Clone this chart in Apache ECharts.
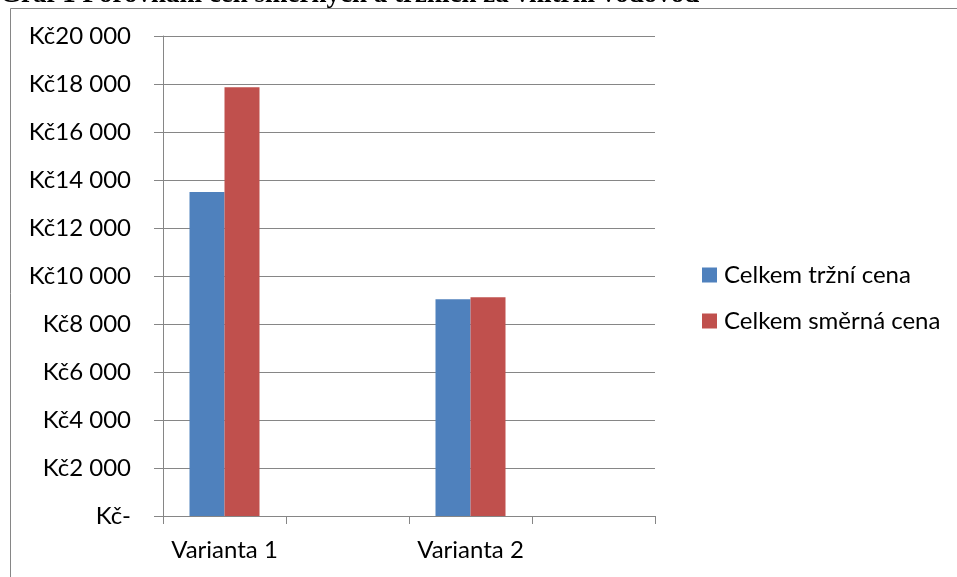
<!DOCTYPE html>
<html>
<head>
<meta charset="utf-8">
<script src="https://cdn.jsdelivr.net/npm/echarts@6/dist/echarts.min.js"></script>
<style>
  html, body { margin: 0; padding: 0; background: #ffffff; }
  #chart { width: 957px; height: 577px; }
</style>
</head>
<body>
<div id="chart"></div>
<script>
// Kategorie na ose X (prázdné sloty jsou součástí osy)
const categories = ['Varianta 1', '', 'Varianta 2', ''];
// Celkem tržní cena (Kč)
const trzniCena = [13500, null, 9030, null];
// Celkem směrná cena (Kč)
const smernaCena = [17860, null, 9110, null];
// Popisky osy Y
const yTickValues = [0, 2000, 4000, 6000, 8000, 10000, 12000, 14000, 16000, 18000, 20000];
const yTickLabels = ['Kč-', 'Kč2 000', 'Kč4 000', 'Kč6 000', 'Kč8 000', 'Kč10 000',
                     'Kč12 000', 'Kč14 000', 'Kč16 000', 'Kč18 000', 'Kč20 000'];
const seriesNames = ['Celkem tržní cena', 'Celkem směrná cena'];
const titleText = 'Graf 1 Porovnání cen směrných a tržních za vnitřní vodovod';

const FONT = 'Lato, "Open Sans", sans-serif';
const GRAY = '#868686';

const chart = echarts.init(document.getElementById('chart'), null, { renderer: 'canvas' });

chart.setOption({
  animation: false,
  backgroundColor: '#ffffff',
  graphic: [
    {
      type: 'rect',
      shape: { x: 10.5, y: 8.5, width: 1000, height: 700 },
      style: { fill: 'none', stroke: GRAY, lineWidth: 1 },
      silent: true
    },
    {
      type: 'text',
      left: 0,
      top: -18,
      style: {
        text: titleText,
        font: 'bold 27px "Liberation Serif", "DejaVu Serif", serif',
        fill: '#000000'
      },
      silent: true
    }
  ],
  grid: { left: 163, right: 302, top: 36, bottom: 61, containLabel: false },
  legend: {
    orient: 'vertical',
    left: 697,
    top: 258,
    itemWidth: 15,
    itemHeight: 15,
    itemGap: 22,
    icon: 'rect',
    textStyle: { fontFamily: FONT, fontSize: 24, color: '#000000', padding: [0, 0, 0, 2] },
    data: seriesNames
  },
  xAxis: {
    type: 'category',
    data: categories,
    boundaryGap: true,
    axisLine: { lineStyle: { color: GRAY, width: 1 } },
    axisTick: { show: true, length: 8, lineStyle: { color: GRAY, width: 1 } },
    axisLabel: { fontFamily: FONT, fontSize: 24, color: '#000000', margin: 22, interval: 0 }
  },
  yAxis: {
    type: 'value',
    min: 0,
    max: 20000,
    interval: 2000,
    axisLine: { show: true, lineStyle: { color: GRAY, width: 1 } },
    axisTick: { show: true, length: 9, lineStyle: { color: GRAY, width: 1 } },
    splitLine: { show: true, lineStyle: { color: GRAY, width: 1 } },
    axisLabel: {
      fontFamily: FONT,
      fontSize: 24,
      color: '#000000',
      margin: 32,
      formatter: function (v) {
        const i = yTickValues.indexOf(v);
        return i >= 0 ? yTickLabels[i] : '';
      }
    }
  },
  series: [
    {
      name: seriesNames[0],
      type: 'bar',
      data: trzniCena,
      barWidth: 35,
      barGap: '0%',
      itemStyle: { color: '#4F81BD' }
    },
    {
      name: seriesNames[1],
      type: 'bar',
      data: smernaCena,
      barWidth: 35,
      barGap: '0%',
      itemStyle: { color: '#C0504D' }
    }
  ]
});
</script>
</body>
</html>
